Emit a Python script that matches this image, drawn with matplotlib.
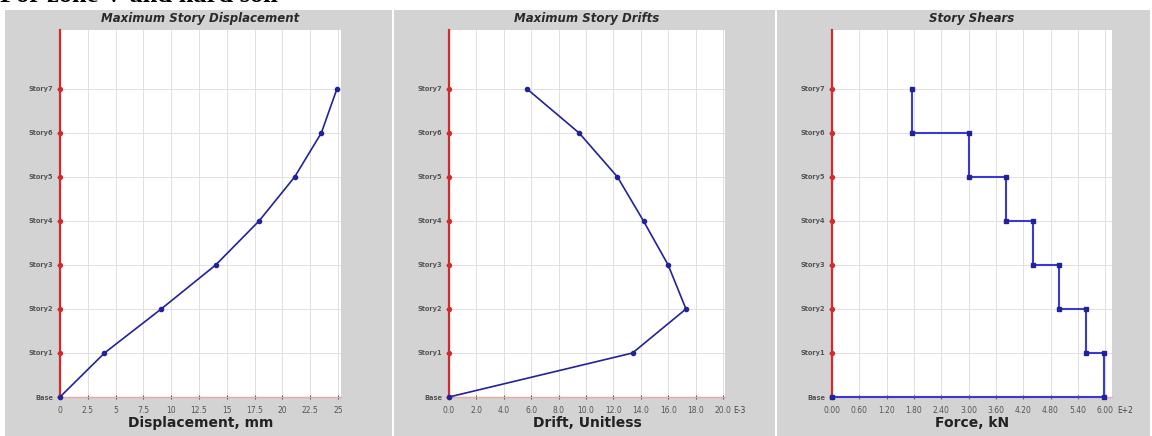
import matplotlib
matplotlib.use("Agg")
import matplotlib.pyplot as plt
from matplotlib.patches import Rectangle

# story levels, bottom to top
stories = ["Base", "Story1", "Story2", "Story3", "Story4", "Story5", "Story6", "Story7"]

# maximum story displacement, mm
displacement = [0.0, 4.0, 9.1, 14.0, 17.9, 21.1, 23.5, 24.9]

# maximum story drift, x 1E-3
drift = [0.0, 13.4, 17.3, 16.0, 14.2, 12.3, 9.5, 5.7]

# story shear per story (Story1..Story7), x 1E+2 kN
shear = [5.98, 5.58, 4.99, 4.42, 3.82, 3.02, 1.76]

disp_ticks = [0, 2.5, 5, 7.5, 10, 12.5, 15, 17.5, 20, 22.5, 25]
disp_labels = ["0", "2.5", "5", "7.5", "10", "12.5", "15", "17.5", "20", "22.5", "25"]
drift_ticks = [0, 2, 4, 6, 8, 10, 12, 14, 16, 18, 20]
drift_labels = ["%.1f" % t for t in drift_ticks]
shear_ticks = [0, 0.6, 1.2, 1.8, 2.4, 3.0, 3.6, 4.2, 4.8, 5.4, 6.0]
shear_labels = ["%.2f" % t for t in shear_ticks]

W, H = 1152, 436
fig = plt.figure(figsize=(W / 100, H / 100), dpi=100)
fig.patch.set_facecolor("white")

GRAY = "#d3d3d3"
RED = "#d42a2a"
NAVY = "#22229a"
BLUE = "#3a3ad0"


def px_axes(left, right, top, bottom):
    return fig.add_axes([left / W, 1 - bottom / H, (right - left) / W, (bottom - top) / H])


# grey panel backgrounds
for x0, x1 in [(5, 392), (394, 775), (777, 1150)]:
    fig.patches.append(Rectangle((x0 / W, 0), (x1 - x0) / W, (H - 10) / H,
                                 transform=fig.transFigure, facecolor=GRAY,
                                 edgecolor="none", zorder=-5))

# heading above the panels (partly cropped by the page edge)
fig.text(0.0, 1.0 + 4 / H, "For zone V and hard soil", family="Liberation Serif",
         fontsize=19, fontweight="bold", ha="left", va="center", color="black")


def style_axes(ax, xmax, ticks, labels, title, xlabel, cx, exp=None):
    ax.set_facecolor("white")
    ax.set_xlim(0, xmax)
    ax.set_ylim(0, 8.34)
    ax.set_yticks(range(len(stories)))
    ax.set_yticklabels(stories, fontsize=4.8, fontweight="bold", color="#555555")
    ax.set_xticks(ticks)
    ax.set_xticklabels(labels, fontsize=5.5, color="#444444")
    ax.grid(True, color="#e0e0e0", linewidth=0.7)
    ax.set_axisbelow(True)
    for s in ["top", "right"]:
        ax.spines[s].set_visible(False)
    ax.spines["left"].set_color(RED)
    ax.spines["left"].set_linewidth(1.6)
    ax.spines["bottom"].set_color("#e8a8a8")
    ax.spines["bottom"].set_linewidth(1.0)
    ax.tick_params(axis="y", colors=RED, length=2, width=1, labelcolor="#555555", pad=3)
    ax.tick_params(axis="x", colors="#555555", length=3, width=0.8, direction="inout", pad=5)
    ax.plot([0] * len(stories), range(len(stories)), "o", color=RED, markersize=2.8,
            clip_on=False, zorder=5)
    ax.set_title(title, fontsize=8.5, fontweight="bold", fontstyle="italic",
                 color="#2a2a2a", pad=6)
    ax.set_xlabel(xlabel, fontsize=10, fontweight="bold", color="#222222", labelpad=1)
    if exp:
        fig.text(cx / W, 1 - 410 / H, exp, fontsize=5.5, color="#444444",
                 ha="left", va="center")


# displacement
ax1 = px_axes(60, 341, 30, 397)
style_axes(ax1, 25.27, disp_ticks, disp_labels, "Maximum Story Displacement",
           "Displacement, mm", 0)
ax1.plot(displacement, range(len(stories)), "-o", color=NAVY, linewidth=1.2,
         markersize=3, clip_on=False, zorder=6)

# drift
ax2 = px_axes(449, 725, 30, 397)
style_axes(ax2, 20.15, drift_ticks, drift_labels, "Maximum Story Drifts",
           "Drift, Unitless", 733, "E-3")
ax2.plot(drift, range(len(stories)), "-o", color=NAVY, linewidth=1.2,
         markersize=3, clip_on=False, zorder=6)

# story shear as a step profile
xs, ys = [0.0], [0]
for i, v in enumerate(shear):
    xs += [v, v]
    ys += [i, i + 1]
ax3 = px_axes(832, 1112, 30, 397)
style_axes(ax3, 6.15, shear_ticks, shear_labels, "Story Shears", "Force, kN",
           1117, "E+2")
ax3.plot(xs, ys, "-s", color=BLUE, linewidth=1.5, markersize=3,
         markerfacecolor=NAVY, markeredgecolor=NAVY, clip_on=False, zorder=6)

fig.savefig("out.png", dpi=100)
